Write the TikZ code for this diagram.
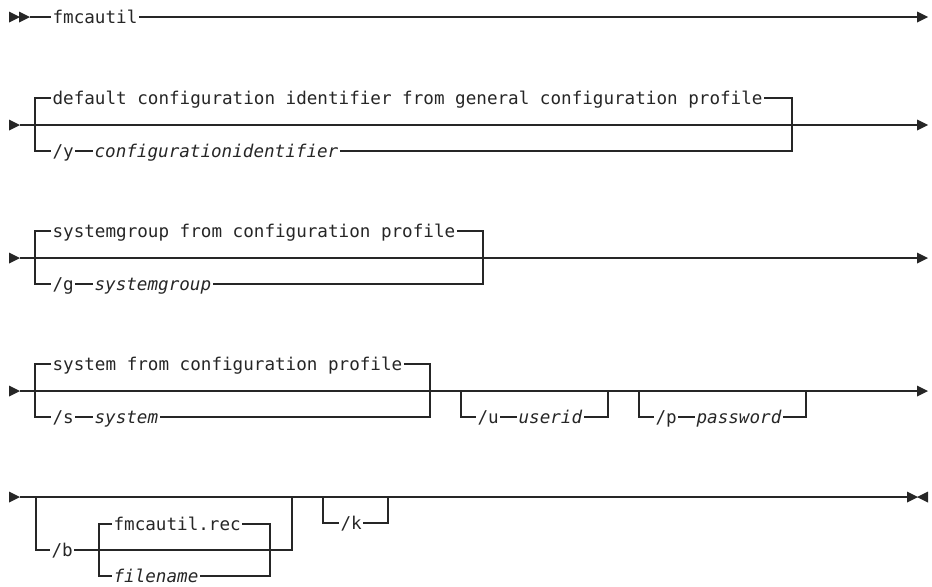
\documentclass[tikz,border=0pt]{standalone}
\usepackage{fontspec}
\setmainfont{DejaVu Sans Mono}
\tikzset{
  rr/.style={line width=0.9pt, draw=black!85, line join=miter},
  lbl/.style={anchor=west, inner xsep=1pt, inner ysep=0pt, text height=10pt, text depth=0pt, text=black!85, font=\fontsize{13.2}{15}\selectfont},
  var/.style={lbl, font=\fontsize{13.2}{15}\selectfont\itshape},
  tri/.style={fill=black!85},
}
\begin{document}
\begin{tikzpicture}[x=0.75pt,y=-0.75pt]
\useasboundingbox (0,0) rectangle (932,586);

% ---------- row 1 ----------
\fill[tri] (9,11.5) -- (20,17) -- (9,22.5) -- cycle;
\fill[tri] (19,11.5) -- (30,17) -- (19,22.5) -- cycle;
\coordinate (r1s) at (30,17);
\coordinate (r1e) at (918,17);
\node[lbl] (fmc) at (51,17) {fmcautil};
\draw[rr] (r1s) -- (fmc.west);
\draw[rr] (fmc.east) -- (r1e);
\fill[tri] (917,11.5) -- (928,17) -- (917,22.5) -- cycle;

% ---------- row 2 ----------
\fill[tri] (9,119.5) -- (20,125) -- (9,130.5) -- cycle;
\coordinate (r2s) at (20,125);
\coordinate (r2e) at (918,125);
\draw[rr] (r2s) -- (r2e);
\fill[tri] (917,119.5) -- (928,125) -- (917,130.5) -- cycle;
\coordinate (b2tl) at (35,98);
\coordinate (b2bl) at (35,151);
\coordinate (b2tr) at (792,98);
\coordinate (b2br) at (792,151);
\node[lbl] (def) at (51,98) {default configuration identifier from general configuration profile};
\node[lbl] (ysw) at (51,151) {/y};
\node[var] (cid) at (93,151) {configurationidentifier};
\draw[rr] (def.west) -- (b2tl) -- (b2bl) -- (ysw.west);
\draw[rr] (ysw.east) -- (cid.west);
\draw[rr] (def.east) -- (b2tr) -- (b2br) -- (cid.east);

% ---------- row 3 ----------
\fill[tri] (9,252.5) -- (20,258) -- (9,263.5) -- cycle;
\coordinate (r3s) at (20,258);
\coordinate (r3e) at (918,258);
\draw[rr] (r3s) -- (r3e);
\fill[tri] (917,252.5) -- (928,258) -- (917,263.5) -- cycle;
\coordinate (b3tl) at (35,231);
\coordinate (b3bl) at (35,284);
\coordinate (b3tr) at (483,231);
\coordinate (b3br) at (483,284);
\node[lbl] (sgd) at (51,231) {systemgroup from configuration profile};
\node[lbl] (gsw) at (51,284) {/g};
\node[var] (sg) at (93,284) {systemgroup};
\draw[rr] (sgd.west) -- (b3tl) -- (b3bl) -- (gsw.west);
\draw[rr] (gsw.east) -- (sg.west);
\draw[rr] (sgd.east) -- (b3tr) -- (b3br) -- (sg.east);

% ---------- row 4 ----------
\fill[tri] (9,385.5) -- (20,391) -- (9,396.5) -- cycle;
\coordinate (r4s) at (20,391);
\coordinate (r4e) at (918,391);
\draw[rr] (r4s) -- (r4e);
\fill[tri] (917,385.5) -- (928,391) -- (917,396.5) -- cycle;
\coordinate (b4tl) at (35,364);
\coordinate (b4bl) at (35,417);
\coordinate (b4tr) at (430,364);
\coordinate (b4br) at (430,417);
\node[lbl] (sd) at (51,364) {system from configuration profile};
\node[lbl] (ssw) at (51,417) {/s};
\node[var] (sys) at (93,417) {system};
\draw[rr] (sd.west) -- (b4tl) -- (b4bl) -- (ssw.west);
\draw[rr] (ssw.east) -- (sys.west);
\draw[rr] (sd.east) -- (b4tr) -- (b4br) -- (sys.east);
% /u
\coordinate (utl) at (461,391);
\coordinate (ubl) at (461,417);
\coordinate (utr) at (608,391);
\coordinate (ubr) at (608,417);
\node[lbl] (usw) at (476,417) {/u};
\node[var] (uid) at (517,417) {userid};
\draw[rr] (utl) -- (ubl) -- (usw.west);
\draw[rr] (usw.east) -- (uid.west);
\draw[rr] (uid.east) -- (ubr) -- (utr);
% /p
\coordinate (ptl) at (639,391);
\coordinate (pbl) at (639,417);
\coordinate (ptr) at (806,391);
\coordinate (pbr) at (806,417);
\node[lbl] (psw) at (654,417) {/p};
\node[var] (pwd) at (695,417) {password};
\draw[rr] (ptl) -- (pbl) -- (psw.west);
\draw[rr] (psw.east) -- (pwd.west);
\draw[rr] (pwd.east) -- (pbr) -- (ptr);

% ---------- row 5 ----------
\fill[tri] (9,491.5) -- (20,497) -- (9,502.5) -- cycle;
\coordinate (r5s) at (20,497);
\coordinate (r5e) at (908,497);
\draw[rr] (r5s) -- (r5e);
\fill[tri] (907,491.5) -- (918,497) -- (907,502.5) -- cycle;
\fill[tri] (928,491.5) -- (917,497) -- (928,502.5) -- cycle;
% /b outer bracket
\coordinate (otl) at (36,497);
\coordinate (obl) at (36,550);
\coordinate (otr) at (292,497);
\coordinate (obr) at (292,550);
\node[lbl] (bsw) at (50,550) {/b};
\draw[rr] (otl) -- (obl) -- (bsw.west);
% inner bracket
\coordinate (itl) at (99,524);
\coordinate (ibl) at (99,576);
\coordinate (itr) at (270,524);
\coordinate (ibr) at (270,576);
\node[lbl] (rec) at (112,524) {fmcautil.rec};
\node[var] (fn) at (112,576) {filename};
\draw[rr] (bsw.east) -- (obr) -- (otr);
\draw[rr] (rec.west) -- (itl) -- (ibl) -- (fn.west);
\draw[rr] (rec.east) -- (itr) -- (ibr) -- (fn.east);
% /k
\coordinate (ktl) at (323,497);
\coordinate (kbl) at (323,523);
\coordinate (ktr) at (388,497);
\coordinate (kbr) at (388,523);
\node[lbl] (ksw) at (339,523) {/k};
\draw[rr] (ktl) -- (kbl) -- (ksw.west);
\draw[rr] (ksw.east) -- (kbr) -- (ktr);
\end{tikzpicture}
\end{document}
